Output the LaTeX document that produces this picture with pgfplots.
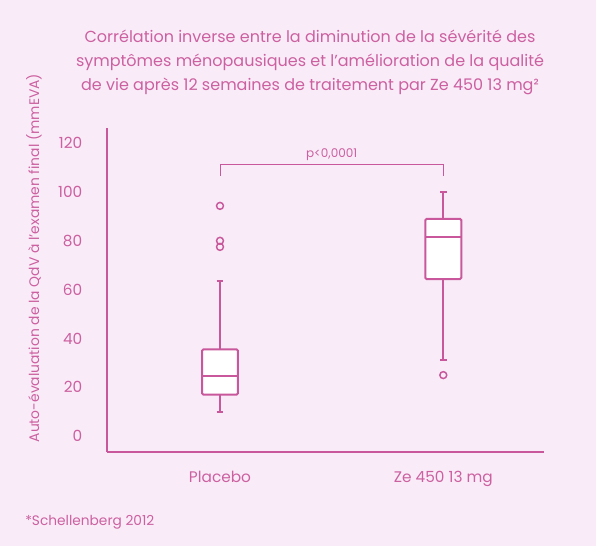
\documentclass[border=0pt]{standalone}
\usepackage{pgfplots}
\pgfplotsset{compat=1.18}
\usepackage{fontspec}
\setmainfont{Poppins}
\definecolor{bg}{RGB}{249,236,248}
\definecolor{ink}{RGB}{200,88,155}
\definecolor{txt}{RGB}{204,96,160}

\begin{document}
\begin{tikzpicture}
% page = 596x546 px, 1px = 0.75pt
\fill[bg] (0,0) rectangle (447pt,409.5pt);

\begin{axis}[
    at={(80.25pt,70.5pt)}, anchor=south west,
    scale only axis,
    width=327.75pt, height=243pt,
    xmin=0.494, xmax=2.451,
    ymin=-6.5, ymax=126.2,
    axis x line*=bottom, axis y line*=left,
    axis line style={-, draw=ink, line width=0.8pt},
    major tick length=0pt,
    xtick={1,2},
    xticklabels={Placebo, Ze 450 13 mg},
    ytick={0,20,...,120},
    /pgf/number format/assume math mode=true,
    tick label style={text=txt, font=\fontsize{11.5}{14}\selectfont},
    yticklabel style={xshift=-15pt},
    xticklabel style={yshift=-11pt},
    clip=false,
    every axis plot/.append style={draw=ink, line width=1.5pt},
]
% whiskers (lower whisker to Q1, Q3 to upper whisker) with caps
\addplot[mark=none] coordinates {(1,10) (1,17)};
\addplot[mark=none] coordinates {(1,35.5) (1,63.5)};
\addplot[mark=none] coordinates {(0.985,10) (1.015,10)};
\addplot[mark=none] coordinates {(0.985,63.5) (1.015,63.5)};
\addplot[mark=none] coordinates {(2,31) (2,64.3)};
\addplot[mark=none] coordinates {(2,89) (2,100)};
\addplot[mark=none] coordinates {(1.985,31) (2.015,31)};
\addplot[mark=none] coordinates {(1.985,100) (2.015,100)};
% boxes: Q1 to Q3
\addplot[fill=white, mark=none, rounded corners=1pt] coordinates
    {(0.9195,17) (1.0805,17) (1.0805,35.5) (0.9195,35.5)} --cycle;
\addplot[fill=white, mark=none, rounded corners=1pt] coordinates
    {(1.9195,64.3) (2.0805,64.3) (2.0805,89) (1.9195,89)} --cycle;
% medians
\addplot[mark=none] coordinates {(0.9195,24.5) (1.0805,24.5)};
\addplot[mark=none] coordinates {(1.9195,81.5) (2.0805,81.5)};
% outliers
\addplot[only marks, mark=o, mark size=2.6pt, mark options={draw=ink, line width=1.1pt}]
    coordinates {(1,94.3) (1,80) (1,77.5) (2,25)};
% significance bracket
\addplot[mark=none, line width=0.7pt] coordinates {(1,106.7) (1,111.3) (2,111.3) (2,106.7)};
\node[text=txt, font=\fontsize{9}{11}\selectfont, anchor=base] at (axis cs:1.5,114.2) {p<0,0001};
\end{axis}

\node[text=txt, align=center, font=\fontsize{12}{18}\selectfont] at (232.5pt,363pt)
    {Corrélation inverse entre la diminution de la sévérité des\\
     symptômes ménopausiques et l’amélioration de la qualité\\
     de vie après 12 semaines de traitement par Ze 450 13 mg²};
\node[text=txt, rotate=90, font=\fontsize{10.4}{12}\selectfont] at (25.5pt,216pt)
    {Auto-évaluation de la QdV à l’examen final (mmEVA)};
\node[text=txt, anchor=west, inner sep=0pt, font=\fontsize{10.3}{12}\selectfont] at (18.75pt,18pt)
    {*Schellenberg 2012};
\end{tikzpicture}
\end{document}
